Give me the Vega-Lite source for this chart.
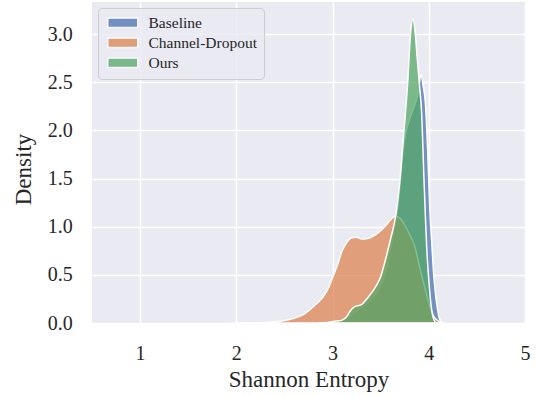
{
  "$schema": "https://vega.github.io/schema/vega-lite/v6.json",
  "width": 433,
  "height": 321,
  "autosize": "none",
  "padding": {"left": 92, "top": 2, "right": 11, "bottom": 73},
  "background": "white",
  "config": {"view": {"fill": "#EAEAF2", "stroke": null}, "font": "Liberation Serif"},
  "data": {"values": [
    {"g": "Baseline", "x": 2.85, "d": 0},
    {"g": "Baseline", "x": 2.95, "d": 0.005},
    {"g": "Baseline", "x": 3.05, "d": 0.012},
    {"g": "Baseline", "x": 3.15, "d": 0.05},
    {"g": "Baseline", "x": 3.25, "d": 0.12},
    {"g": "Baseline", "x": 3.35, "d": 0.2},
    {"g": "Baseline", "x": 3.45, "d": 0.3},
    {"g": "Baseline", "x": 3.55, "d": 0.52},
    {"g": "Baseline", "x": 3.62, "d": 0.85},
    {"g": "Baseline", "x": 3.66, "d": 1.08},
    {"g": "Baseline", "x": 3.7, "d": 1.42},
    {"g": "Baseline", "x": 3.73, "d": 1.78},
    {"g": "Baseline", "x": 3.76, "d": 1.97},
    {"g": "Baseline", "x": 3.79, "d": 2.08},
    {"g": "Baseline", "x": 3.83, "d": 2.2},
    {"g": "Baseline", "x": 3.86, "d": 2.28},
    {"g": "Baseline", "x": 3.89, "d": 2.4},
    {"g": "Baseline", "x": 3.92, "d": 2.59},
    {"g": "Baseline", "x": 3.94, "d": 2.47},
    {"g": "Baseline", "x": 3.965, "d": 2.28},
    {"g": "Baseline", "x": 3.99, "d": 1.75},
    {"g": "Baseline", "x": 4.01, "d": 1.2},
    {"g": "Baseline", "x": 4.03, "d": 0.85},
    {"g": "Baseline", "x": 4.05, "d": 0.52},
    {"g": "Baseline", "x": 4.07, "d": 0.3},
    {"g": "Baseline", "x": 4.09, "d": 0.15},
    {"g": "Baseline", "x": 4.11, "d": 0.05},
    {"g": "Baseline", "x": 4.14, "d": 0},
    {"g": "Channel-Dropout", "x": 1.95, "d": 0},
    {"g": "Channel-Dropout", "x": 2.1, "d": 0.002},
    {"g": "Channel-Dropout", "x": 2.3, "d": 0.006},
    {"g": "Channel-Dropout", "x": 2.4, "d": 0.012},
    {"g": "Channel-Dropout", "x": 2.5, "d": 0.025},
    {"g": "Channel-Dropout", "x": 2.6, "d": 0.05},
    {"g": "Channel-Dropout", "x": 2.7, "d": 0.09},
    {"g": "Channel-Dropout", "x": 2.8, "d": 0.17},
    {"g": "Channel-Dropout", "x": 2.9, "d": 0.27},
    {"g": "Channel-Dropout", "x": 2.95, "d": 0.35},
    {"g": "Channel-Dropout", "x": 3.0, "d": 0.47},
    {"g": "Channel-Dropout", "x": 3.05, "d": 0.6},
    {"g": "Channel-Dropout", "x": 3.1, "d": 0.75},
    {"g": "Channel-Dropout", "x": 3.15, "d": 0.84},
    {"g": "Channel-Dropout", "x": 3.2, "d": 0.885},
    {"g": "Channel-Dropout", "x": 3.25, "d": 0.89},
    {"g": "Channel-Dropout", "x": 3.3, "d": 0.872},
    {"g": "Channel-Dropout", "x": 3.35, "d": 0.875},
    {"g": "Channel-Dropout", "x": 3.4, "d": 0.89},
    {"g": "Channel-Dropout", "x": 3.45, "d": 0.92},
    {"g": "Channel-Dropout", "x": 3.5, "d": 0.96},
    {"g": "Channel-Dropout", "x": 3.55, "d": 1.01},
    {"g": "Channel-Dropout", "x": 3.6, "d": 1.07},
    {"g": "Channel-Dropout", "x": 3.65, "d": 1.11},
    {"g": "Channel-Dropout", "x": 3.7, "d": 1.09},
    {"g": "Channel-Dropout", "x": 3.76, "d": 1.0},
    {"g": "Channel-Dropout", "x": 3.81, "d": 0.9},
    {"g": "Channel-Dropout", "x": 3.86, "d": 0.78},
    {"g": "Channel-Dropout", "x": 3.9, "d": 0.6},
    {"g": "Channel-Dropout", "x": 3.95, "d": 0.4},
    {"g": "Channel-Dropout", "x": 4.0, "d": 0.21},
    {"g": "Channel-Dropout", "x": 4.05, "d": 0.07},
    {"g": "Channel-Dropout", "x": 4.1, "d": 0.02},
    {"g": "Channel-Dropout", "x": 4.16, "d": 0},
    {"g": "Ours", "x": 2.85, "d": 0},
    {"g": "Ours", "x": 2.95, "d": 0.005},
    {"g": "Ours", "x": 3.0, "d": 0.015},
    {"g": "Ours", "x": 3.05, "d": 0.02},
    {"g": "Ours", "x": 3.1, "d": 0.03},
    {"g": "Ours", "x": 3.15, "d": 0.07},
    {"g": "Ours", "x": 3.18, "d": 0.12},
    {"g": "Ours", "x": 3.23, "d": 0.17},
    {"g": "Ours", "x": 3.3, "d": 0.19},
    {"g": "Ours", "x": 3.34, "d": 0.23},
    {"g": "Ours", "x": 3.38, "d": 0.28},
    {"g": "Ours", "x": 3.45, "d": 0.38},
    {"g": "Ours", "x": 3.5, "d": 0.48},
    {"g": "Ours", "x": 3.54, "d": 0.62},
    {"g": "Ours", "x": 3.6, "d": 0.86},
    {"g": "Ours", "x": 3.66, "d": 1.14},
    {"g": "Ours", "x": 3.7, "d": 1.48},
    {"g": "Ours", "x": 3.74, "d": 1.97},
    {"g": "Ours", "x": 3.78, "d": 2.48},
    {"g": "Ours", "x": 3.81, "d": 3.0},
    {"g": "Ours", "x": 3.835, "d": 3.16},
    {"g": "Ours", "x": 3.86, "d": 3.0},
    {"g": "Ours", "x": 3.88, "d": 2.75},
    {"g": "Ours", "x": 3.905, "d": 2.45},
    {"g": "Ours", "x": 3.925, "d": 2.2},
    {"g": "Ours", "x": 3.95, "d": 1.5},
    {"g": "Ours", "x": 3.965, "d": 1.1},
    {"g": "Ours", "x": 3.98, "d": 0.75},
    {"g": "Ours", "x": 4.0, "d": 0.45},
    {"g": "Ours", "x": 4.03, "d": 0.14},
    {"g": "Ours", "x": 4.06, "d": 0.02},
    {"g": "Ours", "x": 4.08, "d": 0}
  ]},
  "mark": {"type": "area", "interpolate": "monotone", "fillOpacity": 0.75, "stroke": "white", "strokeWidth": 1.5, "clip": true},
  "encoding": {
    "x": {
      "field": "x", "type": "quantitative",
      "scale": {"domain": [0.5, 5], "nice": false, "zero": false},
      "axis": {
        "title": "Shannon Entropy", "values": [1, 2, 3, 4, 5], "format": "d",
        "grid": true, "gridColor": "white", "gridWidth": 1.6,
        "domain": false, "ticks": false, "tickSize": 0,
        "labelPadding": 36, "labelBaseline": "alphabetic", "labelFlush": false, "labelOverlap": false,
        "labelFont": "Liberation Serif", "labelFontSize": 20, "labelColor": "#262626",
        "titleFont": "Liberation Serif", "titleFontSize": 23, "titleFontWeight": "normal", "titleColor": "#262626",
        "titleBaseline": "alphabetic", "titleAlign": "center", "titleX": 216.5, "titleY": 63.6
      }
    },
    "y": {
      "field": "d", "type": "quantitative", "stack": null,
      "scale": {"domain": [0, 3.335], "nice": false},
      "axis": {
        "title": "Density", "values": [0, 0.5, 1, 1.5, 2, 2.5, 3], "format": ".1f",
        "grid": true, "gridColor": "white", "gridWidth": 1.6,
        "domain": false, "ticks": false, "tickSize": 0,
        "labelPadding": 19.7, "labelFlush": false, "labelOverlap": false,
        "labelFont": "Liberation Serif", "labelFontSize": 20, "labelColor": "#262626",
        "titleFont": "Liberation Serif", "titleFontSize": 23, "titleFontWeight": "normal", "titleColor": "#262626",
        "titleAngle": -90, "titleBaseline": "alphabetic", "titleAlign": "center", "titleX": -61.8, "titleY": 167
      }
    },
    "color": {
      "field": "g", "type": "nominal",
      "scale": {"domain": ["Baseline", "Channel-Dropout", "Ours"], "range": ["#4C72B0", "#DD8452", "#55A868"]},
      "legend": {
        "title": null, "orient": "none", "legendX": 6, "legendY": 6,
        "fillColor": "rgba(234,234,242,0.8)", "strokeColor": "#CCCCCC", "cornerRadius": 4,
        "padding": 7,
        "symbolType": "M-1,-0.93H5V0.93H-1Z", "symbolSize": 100,
        "symbolStrokeColor": "white", "symbolStrokeWidth": 1.5, "symbolOpacity": 0.75,
        "labelFont": "Liberation Serif", "labelFontSize": 15.5, "labelColor": "#262626",
        "labelOffset": 28, "rowPadding": 3
      }
    }
  }
}
